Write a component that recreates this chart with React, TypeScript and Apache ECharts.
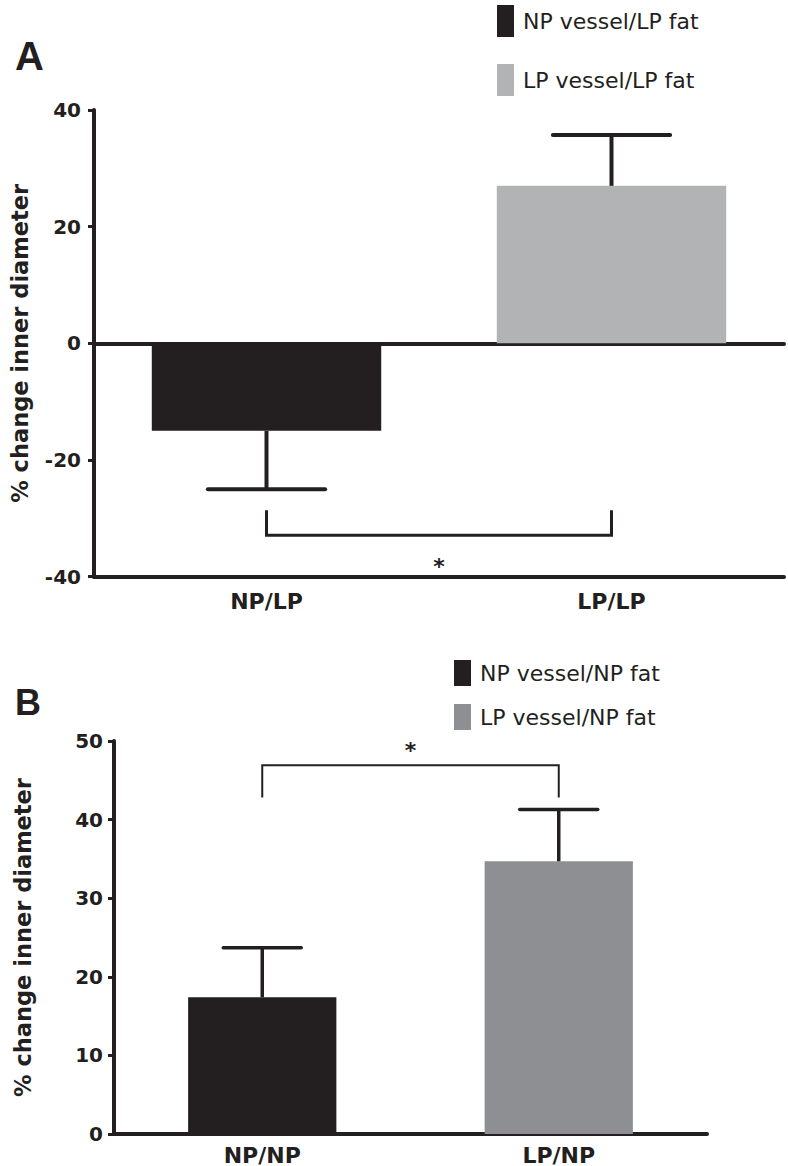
import React, { useEffect, useRef } from 'react';
import * as echarts from 'echarts';

// ---------- data ----------
const categoriesA = ['NP/LP', 'LP/LP'];
const seriesNamesA = ['NP vessel/LP fat', 'LP vessel/LP fat'];
const meansA = [-15, 27];
const errorEndsA = [-25, 35.7];
// [fromCategory, toCategory, bracket level, bracket end, star level]
const bracketA = [0, 1, -32.9, -28.6, -38.2];
const yMinA = -40;
const yMaxA = 40;
const yStepA = 20;

const categoriesB = ['NP/NP', 'LP/NP'];
const seriesNamesB = ['NP vessel/NP fat', 'LP vessel/NP fat'];
const meansB = [17.4, 34.7];
const errorEndsB = [23.7, 41.3];
const bracketB = [0, 1, 46.9, 42.8, 48.8];
const yMinB = 0;
const yMaxB = 50;
const yStepB = 10;

const yTitle = '% change inner diameter';
const panelLabels = ['A', 'B'];

// ---------- styles ----------
const INK = '#231f20';
const GREY_A = '#b2b3b5';
const GREY_B = '#8e8f92';
const FONT = 'DejaVu Sans';

function errorSeries(xi: number, yi: number, means: number[], ends: number[], capFrac: number, lw: number) {
  return {
    type: 'custom',
    xAxisIndex: xi,
    yAxisIndex: yi,
    z: 5,
    data: means.map((m, i) => [i, m, ends[i]]),
    encode: { x: 0, y: [1, 2] },
    renderItem: (_p: any, api: any) => {
      const i = api.value(0);
      const p0 = api.coord([i, api.value(1)]);
      const p1 = api.coord([i, api.value(2)]);
      const half = (api.size([1, 0])[0] * capFrac) / 2;
      return {
        type: 'group',
        children: [
          { type: 'line', shape: { x1: p0[0], y1: p0[1], x2: p1[0], y2: p1[1] }, style: { stroke: INK, lineWidth: lw } },
          {
            type: 'line',
            shape: { x1: p1[0] - half, y1: p1[1], x2: p1[0] + half, y2: p1[1] },
            style: { stroke: INK, lineWidth: lw, lineCap: 'round' },
          },
        ],
      };
    },
  };
}

function bracketSeries(xi: number, yi: number, b: number[], lw: number) {
  return {
    type: 'custom',
    xAxisIndex: xi,
    yAxisIndex: yi,
    z: 6,
    data: [b],
    encode: { x: [0, 1], y: [2, 3, 4] },
    renderItem: (_p: any, api: any) => {
      const a = api.value(0);
      const c = api.value(1);
      const pa = api.coord([a, api.value(2)]);
      const pc = api.coord([c, api.value(2)]);
      const ea = api.coord([a, api.value(3)]);
      const ec = api.coord([c, api.value(3)]);
      const sa = api.coord([a, api.value(4)]);
      const sc = api.coord([c, api.value(4)]);
      return {
        type: 'group',
        children: [
          {
            type: 'polyline',
            shape: { points: [ea, pa, pc, ec] },
            style: { stroke: INK, lineWidth: lw, fill: 'none' },
          },
          {
            type: 'text',
            x: (sa[0] + sc[0]) / 2,
            y: sa[1],
            style: {
              text: '*',
              fontSize: 22,
              fontWeight: 'bold',
              fontFamily: FONT,
              fill: INK,
              align: 'center',
              verticalAlign: 'middle',
            },
          },
        ],
      };
    },
  };
}

function yAxisCfg(gi: number, min: number, max: number, step: number, margin: number, nameGap: number) {
  return {
    gridIndex: gi,
    type: 'value',
    min,
    max,
    interval: step,
    axisLine: { show: true, lineStyle: { color: INK, width: 4 } },
    axisTick: { show: true, length: 6, lineStyle: { color: INK, width: 3 } },
    splitLine: { show: false },
    axisLabel: { margin, fontSize: 20, fontWeight: 'bold', fontFamily: FONT, color: INK },
    name: yTitle,
    nameLocation: 'middle',
    nameRotate: 90,
    nameGap,
    nameTextStyle: { fontSize: 22.5, fontWeight: 'bold', fontFamily: FONT, color: INK },
  };
}

function xAxisCfg(gi: number, cats: string[], onZero: boolean, showLabel: boolean, margin: number) {
  return {
    gridIndex: gi,
    type: 'category',
    data: cats,
    position: 'bottom',
    axisLine: { show: true, onZero, lineStyle: { color: INK, width: 4 } },
    axisTick: { show: false },
    axisLabel: { show: showLabel, margin, fontSize: 22, fontWeight: 'bold', fontFamily: FONT, color: INK },
    splitLine: { show: false },
  };
}

export default function App() {
  const ref = useRef<HTMLDivElement>(null);

  useEffect(() => {
    if (!ref.current) return;
    const chart = echarts.init(ref.current, undefined, { renderer: 'svg' });
    const option: any = {
      animation: false,
      backgroundColor: '#ffffff',
      grid: [
        { left: 80, top: 110, width: 704, height: 466.7 },
        { left: 114, top: 741, width: 593, height: 397 },
      ],
      legend: [
        {
          data: seriesNamesA,
          orient: 'vertical',
          left: 492,
          top: 0,
          icon: 'rect',
          itemWidth: 17,
          itemHeight: 32,
          itemGap: 27,
          selectedMode: false,
          textStyle: { fontSize: 22, fontFamily: FONT, color: INK, padding: [0, 0, 0, 4] },
        },
        {
          data: seriesNamesB,
          orient: 'vertical',
          left: 449,
          top: 655,
          icon: 'rect',
          itemWidth: 17,
          itemHeight: 26,
          itemGap: 18,
          selectedMode: false,
          textStyle: { fontSize: 22, fontFamily: FONT, color: INK, padding: [0, 0, 0, 4] },
        },
      ],
      xAxis: [
        xAxisCfg(0, categoriesA, true, false, 14),
        xAxisCfg(0, categoriesA, false, true, 14),
        xAxisCfg(1, categoriesB, false, true, 10),
      ],
      yAxis: [
        yAxisCfg(0, yMinA, yMaxA, yStepA, 13, 63),
        yAxisCfg(1, yMinB, yMaxB, yStepB, 11, 80),
      ],
      graphic: [
        {
          type: 'text',
          left: 15,
          top: 36,
          style: { text: panelLabels[0], fontSize: 40, fontWeight: 'bold', fontFamily: 'Liberation Sans', fill: INK },
        },
        {
          type: 'text',
          left: 15,
          top: 684,
          style: { text: panelLabels[1], fontSize: 36, fontWeight: 'bold', fontFamily: 'Liberation Sans', fill: INK },
        },
      ],
      series: [
        {
          type: 'bar',
          name: seriesNamesA[0],
          xAxisIndex: 0,
          yAxisIndex: 0,
          data: [meansA[0], '-'],
          barWidth: '66.5%',
          barGap: '-100%',
          itemStyle: { color: INK },
        },
        {
          type: 'bar',
          name: seriesNamesA[1],
          xAxisIndex: 0,
          yAxisIndex: 0,
          data: ['-', meansA[1]],
          barWidth: '66.5%',
          barGap: '-100%',
          itemStyle: { color: GREY_A },
        },
        errorSeries(0, 0, meansA, errorEndsA, 0.34, 4),
        bracketSeries(0, 0, bracketA, 3),
        {
          type: 'bar',
          name: seriesNamesB[0],
          xAxisIndex: 2,
          yAxisIndex: 1,
          data: [meansB[0], '-'],
          barWidth: '50%',
          barGap: '-100%',
          itemStyle: { color: INK },
        },
        {
          type: 'bar',
          name: seriesNamesB[1],
          xAxisIndex: 2,
          yAxisIndex: 1,
          data: ['-', meansB[1]],
          barWidth: '50%',
          barGap: '-100%',
          itemStyle: { color: GREY_B },
        },
        errorSeries(2, 1, meansB, errorEndsB, 0.263, 3.5),
        bracketSeries(2, 1, bracketB, 2),
      ],
    };
    chart.setOption(option);
    return () => chart.dispose();
  }, []);

  return (
    <div
      ref={ref}
      style={{ position: 'absolute', left: 0, top: 0, width: 788, height: 1166, background: '#fff' }}
    />
  );
}
